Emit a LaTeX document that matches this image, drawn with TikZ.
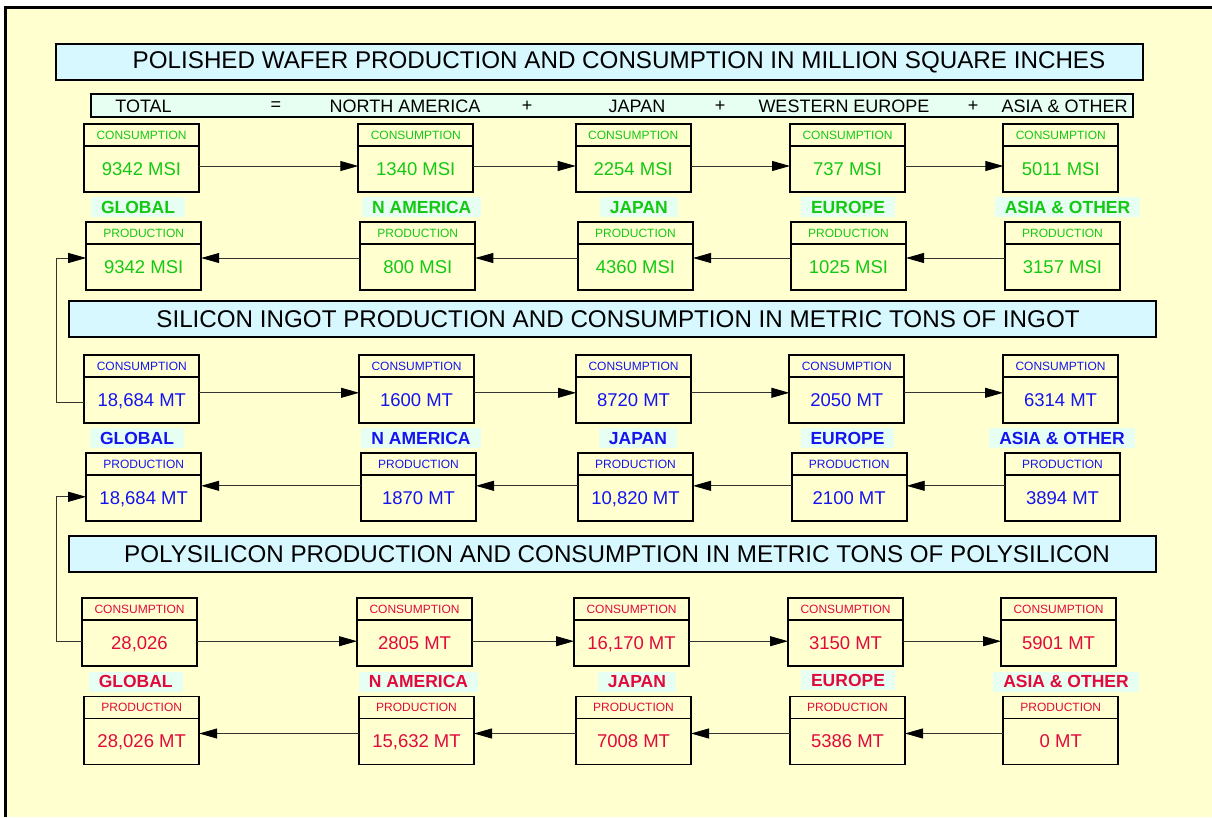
\documentclass[tikz,border=0pt]{standalone}
\usepackage{fontspec}
\setmainfont{Liberation Sans}
\usepackage{tikz}
\usetikzlibrary{arrows.meta, positioning}

\definecolor{paper}{RGB}{255,255,208}
\definecolor{titlefill}{RGB}{216,248,255}
\definecolor{mint}{RGB}{230,255,242}
\definecolor{wafgreen}{RGB}{20,200,20}
\definecolor{ingblue}{RGB}{20,20,240}
\definecolor{polyred}{RGB}{225,10,60}

\tikzset{
  hdr/.style={draw, line width=1.8pt, outer sep=0pt, inner sep=0pt,
    minimum width=115pt, minimum height=22pt, text height=8.6pt, text depth=0pt,
    font=\fontsize{12}{14}\selectfont},
  val/.style={draw, line width=1.8pt, outer sep=0pt, inner sep=0pt,
    minimum width=115pt, minimum height=46pt, text height=12.9pt, text depth=0pt,
    font=\fontsize{18.5}{20}\selectfont},
  region/.style={fill=mint, inner xsep=10pt, inner ysep=0pt, minimum height=20pt,
    text height=12.5pt, text depth=0pt, font=\bfseries\fontsize{17.5}{19}\selectfont},
  flow/.style={-{Triangle[length=18pt,width=10pt,color=black]}, line width=0.9pt, black!80},
  banner/.style={draw, fill=titlefill, line width=1.8pt},
  totalbar/.style={draw, fill=mint, line width=1.8pt},
  bigtitle/.style={font=\fontsize{24.2}{26}\selectfont, inner sep=0pt},
  totaltext/.style={font=\fontsize{18}{20}\selectfont, inner sep=0pt},
  waf/.style={text=wafgreen},
  ing/.style={text=ingblue},
  poly/.style={text=polyred}
}

\begin{document}
\begin{tikzpicture}[x=1pt, y=-1pt]

\useasboundingbox (0,0) rectangle (1212,817);

% Sheet
\fill[white] (0,0) rectangle (1212,817);
\fill[paper] (5,7.5) rectangle (1212,817);
\draw[line width=3pt] (5,817) -- (5,7.5) -- (1212,7.5);

% Polished wafer
\draw[banner] (56,44) rectangle (1143,80);
\node[bigtitle] (waf-title) at (619,62) {POLISHED WAFER PRODUCTION AND CONSUMPTION IN MILLION SQUARE INCHES};

\draw[totalbar] (91,94) rectangle (1133,117);
\node[totaltext] (tot-total) at (143.5,106) {TOTAL};
\node[totaltext] (tot-eq) at (276,106) {=};
\node[totaltext] (tot-na) at (405,106) {NORTH AMERICA};
\node[totaltext] (tot-plus1) at (527,106) {+};
\node[totaltext] (tot-jp) at (637,106) {JAPAN};
\node[totaltext] (tot-plus2) at (720,106) {+};
\node[totaltext] (tot-eu) at (844,106) {WESTERN EUROPE};
\node[totaltext] (tot-plus3) at (973,106) {+};
\node[totaltext] (tot-as) at (1064.5,106) {ASIA \& OTHER};

\node[hdr, waf] (waf-glob-c) at (141.5,135) {CONSUMPTION};
\node[val, waf, below=0pt of waf-glob-c] (waf-glob-cv) {9342 MSI};
\node[hdr, waf] (waf-na-c) at (415.8,135) {CONSUMPTION};
\node[val, waf, below=0pt of waf-na-c] (waf-na-cv) {1340 MSI};
\node[hdr, waf] (waf-jp-c) at (633.2,135) {CONSUMPTION};
\node[val, waf, below=0pt of waf-jp-c] (waf-jp-cv) {2254 MSI};
\node[hdr, waf] (waf-eu-c) at (847.5,135) {CONSUMPTION};
\node[val, waf, below=0pt of waf-eu-c] (waf-eu-cv) {737 MSI};
\node[hdr, waf] (waf-as-c) at (1060.8,135) {CONSUMPTION};
\node[val, waf, below=0pt of waf-as-c] (waf-as-cv) {5011 MSI};

\node[region, waf] (waf-glob) at (138,207) {GLOBAL};
\node[region, waf] (waf-na) at (421.8,207) {N AMERICA};
\node[region, waf] (waf-jp) at (638.8,207) {JAPAN};
\node[region, waf] (waf-eu) at (848,207) {EUROPE};
\node[region, waf] (waf-as) at (1067.5,207) {ASIA \& OTHER};

\node[hdr, waf] (waf-glob-p) at (143.7,233) {PRODUCTION};
\node[val, waf, below=0pt of waf-glob-p] (waf-glob-pv) {9342 MSI};
\node[hdr, waf] (waf-na-p) at (417.8,233) {PRODUCTION};
\node[val, waf, below=0pt of waf-na-p] (waf-na-pv) {800 MSI};
\node[hdr, waf] (waf-jp-p) at (635.5,233) {PRODUCTION};
\node[val, waf, below=0pt of waf-jp-p] (waf-jp-pv) {4360 MSI};
\node[hdr, waf] (waf-eu-p) at (848.5,233) {PRODUCTION};
\node[val, waf, below=0pt of waf-eu-p] (waf-eu-pv) {1025 MSI};
\node[hdr, waf] (waf-as-p) at (1062.5,233) {PRODUCTION};
\node[val, waf, below=0pt of waf-as-p] (waf-as-pv) {3157 MSI};

\draw[flow] ([yshift=3pt]waf-glob-cv.east) -- ([yshift=3pt]waf-na-cv.west);
\draw[flow] ([yshift=3pt]waf-na-cv.east) -- ([yshift=3pt]waf-jp-cv.west);
\draw[flow] ([yshift=3pt]waf-jp-cv.east) -- ([yshift=3pt]waf-eu-cv.west);
\draw[flow] ([yshift=3pt]waf-eu-cv.east) -- ([yshift=3pt]waf-as-cv.west);
\draw[flow] ([yshift=9pt]waf-as-pv.west) -- ([yshift=9pt]waf-eu-pv.east);
\draw[flow] ([yshift=9pt]waf-eu-pv.west) -- ([yshift=9pt]waf-jp-pv.east);
\draw[flow] ([yshift=9pt]waf-jp-pv.west) -- ([yshift=9pt]waf-na-pv.east);
\draw[flow] ([yshift=9pt]waf-na-pv.west) -- ([yshift=9pt]waf-glob-pv.east);

% Silicon ingot
\draw[banner] (69,300.7) rectangle (1156,336.7);
\node[bigtitle] (ing-title) at (618,318.7) {SILICON INGOT PRODUCTION AND CONSUMPTION IN METRIC TONS OF INGOT};

\node[hdr, ing] (ing-glob-c) at (141.8,365.8) {CONSUMPTION};
\node[val, ing, below=0pt of ing-glob-c] (ing-glob-cv) {18,684 MT};
\node[hdr, ing] (ing-na-c) at (416.5,365.8) {CONSUMPTION};
\node[val, ing, below=0pt of ing-na-c] (ing-na-cv) {1600 MT};
\node[hdr, ing] (ing-jp-c) at (633.5,365.8) {CONSUMPTION};
\node[val, ing, below=0pt of ing-jp-c] (ing-jp-cv) {8720 MT};
\node[hdr, ing] (ing-eu-c) at (846.8,365.8) {CONSUMPTION};
\node[val, ing, below=0pt of ing-eu-c] (ing-eu-cv) {2050 MT};
\node[hdr, ing] (ing-as-c) at (1060.5,365.8) {CONSUMPTION};
\node[val, ing, below=0pt of ing-as-c] (ing-as-cv) {6314 MT};

\node[region, ing] (ing-glob) at (137,438) {GLOBAL};
\node[region, ing] (ing-na) at (421,438) {N AMERICA};
\node[region, ing] (ing-jp) at (638,438) {JAPAN};
\node[region, ing] (ing-eu) at (847.5,438) {EUROPE};
\node[region, ing] (ing-as) at (1062,438) {ASIA \& OTHER};

\node[hdr, ing] (ing-glob-p) at (143.7,463.8) {PRODUCTION};
\node[val, ing, below=0pt of ing-glob-p] (ing-glob-pv) {18,684 MT};
\node[hdr, ing] (ing-na-p) at (418.5,463.8) {PRODUCTION};
\node[val, ing, below=0pt of ing-na-p] (ing-na-pv) {1870 MT};
\node[hdr, ing] (ing-jp-p) at (635.5,463.8) {PRODUCTION};
\node[val, ing, below=0pt of ing-jp-p] (ing-jp-pv) {10,820 MT};
\node[hdr, ing] (ing-eu-p) at (849.2,463.8) {PRODUCTION};
\node[val, ing, below=0pt of ing-eu-p] (ing-eu-pv) {2100 MT};
\node[hdr, ing] (ing-as-p) at (1062.5,463.8) {PRODUCTION};
\node[val, ing, below=0pt of ing-as-p] (ing-as-pv) {3894 MT};

\draw[flow] ([yshift=7pt]ing-glob-cv.east) -- ([yshift=7pt]ing-na-cv.west);
\draw[flow] ([yshift=7pt]ing-na-cv.east) -- ([yshift=7pt]ing-jp-cv.west);
\draw[flow] ([yshift=7pt]ing-jp-cv.east) -- ([yshift=7pt]ing-eu-cv.west);
\draw[flow] ([yshift=7pt]ing-eu-cv.east) -- ([yshift=7pt]ing-as-cv.west);
\draw[flow] ([yshift=12pt]ing-as-pv.west) -- ([yshift=12pt]ing-eu-pv.east);
\draw[flow] ([yshift=12pt]ing-eu-pv.west) -- ([yshift=12pt]ing-jp-pv.east);
\draw[flow] ([yshift=12pt]ing-jp-pv.west) -- ([yshift=12pt]ing-na-pv.east);
\draw[flow] ([yshift=12pt]ing-na-pv.west) -- ([yshift=12pt]ing-glob-pv.east);

% ingot consumption feeds wafer production
\draw[flow] ([yshift=-3pt]ing-glob-cv.west) -- ++(-28,0) |- ([yshift=9pt]waf-glob-pv.west);

% Polysilicon
\draw[banner] (69,536) rectangle (1156,572);
\node[bigtitle] (poly-title) at (617,554) {POLYSILICON PRODUCTION AND CONSUMPTION IN METRIC TONS OF POLYSILICON};

\node[hdr, poly] (poly-glob-c) at (139.5,609.2) {CONSUMPTION};
\node[val, poly, below=0pt of poly-glob-c] (poly-glob-cv) {28,026};
\node[hdr, poly] (poly-na-c) at (414.5,609.2) {CONSUMPTION};
\node[val, poly, below=0pt of poly-na-c] (poly-na-cv) {2805 MT};
\node[hdr, poly] (poly-jp-c) at (631.5,609.2) {CONSUMPTION};
\node[val, poly, below=0pt of poly-jp-c] (poly-jp-cv) {16,170 MT};
\node[hdr, poly] (poly-eu-c) at (845.5,609.2) {CONSUMPTION};
\node[val, poly, below=0pt of poly-eu-c] (poly-eu-cv) {3150 MT};
\node[hdr, poly] (poly-as-c) at (1058.5,609.2) {CONSUMPTION};
\node[val, poly, below=0pt of poly-as-c] (poly-as-cv) {5901 MT};

\node[region, poly] (poly-glob) at (135.7,681.7) {GLOBAL};
\node[region, poly] (poly-na) at (418.5,681.7) {N AMERICA};
\node[region, poly] (poly-jp) at (637,681.7) {JAPAN};
\node[region, poly] (poly-eu) at (848,680) {EUROPE};
\node[region, poly] (poly-as) at (1066,681.7) {ASIA \& OTHER};

\node[hdr, poly] (poly-glob-p) at (141.7,707.5) {PRODUCTION};
\node[val, poly, below=0pt of poly-glob-p] (poly-glob-pv) {28,026 MT};
\node[hdr, poly] (poly-na-p) at (416.5,707.5) {PRODUCTION};
\node[val, poly, below=0pt of poly-na-p] (poly-na-pv) {15,632 MT};
\node[hdr, poly] (poly-jp-p) at (633.5,707.5) {PRODUCTION};
\node[val, poly, below=0pt of poly-jp-p] (poly-jp-pv) {7008 MT};
\node[hdr, poly] (poly-eu-p) at (847.5,707.5) {PRODUCTION};
\node[val, poly, below=0pt of poly-eu-p] (poly-eu-pv) {5386 MT};
\node[hdr, poly] (poly-as-p) at (1060.8,707.5) {PRODUCTION};
\node[val, poly, below=0pt of poly-as-p] (poly-as-pv) {0 MT};

\draw[flow] ([yshift=2pt]poly-glob-cv.east) -- ([yshift=2pt]poly-na-cv.west);
\draw[flow] ([yshift=2pt]poly-na-cv.east) -- ([yshift=2pt]poly-jp-cv.west);
\draw[flow] ([yshift=2pt]poly-jp-cv.east) -- ([yshift=2pt]poly-eu-cv.west);
\draw[flow] ([yshift=2pt]poly-eu-cv.east) -- ([yshift=2pt]poly-as-cv.west);
\draw[flow] ([yshift=8pt]poly-as-pv.west) -- ([yshift=8pt]poly-eu-pv.east);
\draw[flow] ([yshift=8pt]poly-eu-pv.west) -- ([yshift=8pt]poly-jp-pv.east);
\draw[flow] ([yshift=8pt]poly-jp-pv.west) -- ([yshift=8pt]poly-na-pv.east);
\draw[flow] ([yshift=8pt]poly-na-pv.west) -- ([yshift=8pt]poly-glob-pv.east);

% polysilicon consumption feeds ingot production
\draw[flow] ([yshift=2pt]poly-glob-cv.west) -- ++(-26,0) |- ([yshift=1pt]ing-glob-pv.west);

\end{tikzpicture}
\end{document}
